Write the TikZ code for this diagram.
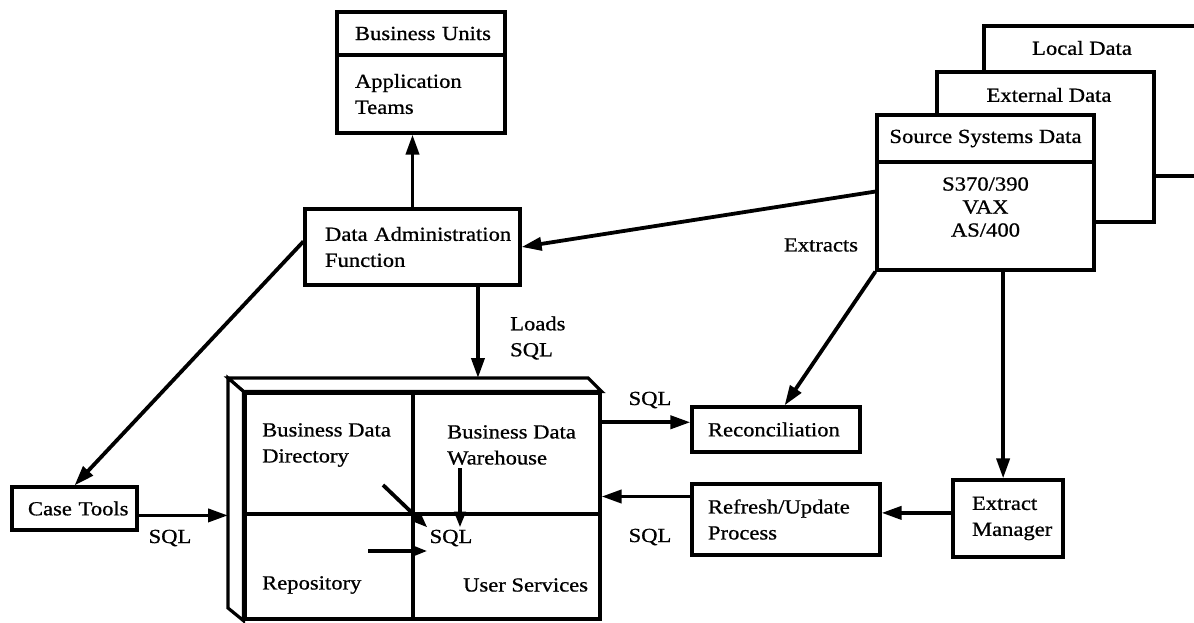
\documentclass[tikz,border=0pt]{standalone}
\usepackage{fontspec}
\setmainfont{Liberation Serif}[FakeStretch=1.13,FakeBold=0.8]
\usetikzlibrary{arrows.meta,calc}

\begin{document}
\begin{tikzpicture}[x=1pt,y=-1pt,
  font=\fontsize{20}{26}\selectfont,
  box/.style={draw, line width=3.2pt, fill=white, inner sep=0pt, align=left},
  frame/.style={line width=3.2pt, line join=miter},
  lbl/.style={inner sep=2pt, align=left},
  arr/.style={line width=3.8pt, -{Triangle[length=20pt,width=13pt]}},
  smallarr/.style={line width=3.8pt, -{Triangle[length=16pt,width=11pt]}}]

\useasboundingbox (0,0) rectangle (1194,623);
\clip (0,0) rectangle (1194,623);

% ---- business units / application teams ----
\node[box, minimum width=168pt, minimum height=43pt, text width=132pt] (bu) at (421,33.5) {\mbox{Business Units}};
\node[box, minimum width=168pt, minimum height=78pt, text width=132pt] (at) at (421,94) {\mbox{Application}\\\mbox{Teams}};

% ---- data administration ----
\node[box, minimum width=215pt, minimum height=76pt, text width=175pt] (da) at (412.5,247) {\mbox{Data Administration}\\\mbox{Function}};

% ---- case tools ----
\node[box, minimum width=125pt, minimum height=43pt, text width=93pt] (ct) at (74.5,508.5) {\mbox{Case Tools}};

% ---- stacked source data sheets ----
\node[box, minimum width=256pt, minimum height=150pt] (loc) at (1112,101) {};
\node[lbl] (loc-t) at (1082,48) {Local Data};
\node[box, minimum width=217pt, minimum height=150pt] (ext) at (1045.5,147) {};
\node[lbl] (ext-t) at (1049,95) {External Data};
\node[box, minimum width=217pt, minimum height=47pt, align=center] (ssd) at (985.5,138.5) {Source Systems Data};
\node[box, minimum width=217pt, minimum height=108pt] (ssb) at (985.5,216) {};
\node[lbl, align=center, font=\fontsize{20}{23}\selectfont] (ssb-t) at (985.5,207) {S370/390\\VAX\\AS/400};

% ---- reconciliation, refresh, extract manager ----
\node[box, minimum width=168pt, minimum height=45pt, text width=136pt] (rec) at (776,429.5) {\mbox{Reconciliation}};
\node[box, minimum width=188pt, minimum height=71pt, text width=156pt] (ref) at (786,519.5) {\mbox{Refresh/Update}\\\mbox{Process}};
\node[box, minimum width=110pt, minimum height=77pt, text width=72pt] (em) at (1008,518.5) {\mbox{Extract}\\\mbox{Manager}};

% ---- warehouse block (front face with top and side faces) ----
\coordinate (b1) at (228,378);
\coordinate (b2) at (588,378);
\coordinate (b3) at (228,608);
\node[box, minimum width=355pt, minimum height=226pt] (wh) at (422.5,506) {};
\filldraw[frame, fill=white] (b1) -- (b2) -- (wh.north east) -- (wh.north west) -- cycle;
\filldraw[frame, fill=white] (b1) -- (wh.north west) -- (wh.south west) -- (b3) -- cycle;
\draw[frame] (413,393) -- (413,619);
\draw[frame] (245,514) -- (600,514);

\node[lbl, anchor=west] (bdd) at (260,445) {Business Data\\Directory};
\node[lbl, anchor=west] (bdw) at (445,445) {Business Data\\Warehouse};
\node[lbl, anchor=west] (rep) at (260,585) {Repository};
\node[lbl, anchor=west] (us) at (461,585) {User Services};
\node[lbl] (sqlc) at (451,538) {SQL};

\coordinate (d0) at (383,485);
\coordinate (v0) at (460,468);
\coordinate (h0) at (368,551);
\draw[smallarr] (d0) -- (sqlc.north west);
\draw[smallarr] (v0) -- (v0 |- sqlc.north);
\draw[smallarr] (h0) -- (h0 -| sqlc.west);

% ---- connectors ----
\draw[arr] (da.north) -- (da.north |- at.south);

\coordinate (da-w) at ($(da.north west)!0.43!(da.south west)$);
\draw[arr] (da-w) -- (ct.north);

\coordinate (da-out) at ($(da.south west)!0.8!(da.south east)$);
\draw[arr] (da-out) -- (da-out |- b1);

\coordinate (ct-e) at ($(ct.north east)!0.65!(ct.south east)$);
\draw[arr] (ct-e) -- (ct-e -| b1);

\coordinate (ss-w) at ($(ssb.north west)!0.28!(ssb.south west)$);
\draw[arr] (ss-w) -- (da.east);

\coordinate (rec-in) at ($(rec.north west)!0.55!(rec.north east)$);
\draw[arr] (ssb.south west) -- (rec-in);

\coordinate (ss-s) at ($(ssb.south west)!0.58!(ssb.south east)$);
\draw[arr] (ss-s) -- (ss-s |- em.north);

\coordinate (em-w) at ($(em.north west)!0.43!(em.south west)$);
\draw[arr] (em-w) -- (em-w -| ref.east);

\coordinate (ref-w) at ($(ref.north west)!0.19!(ref.south west)$);
\draw[arr] (ref-w) -- (ref-w -| wh.east);

\coordinate (rec-w) at ($(rec.north west)!0.35!(rec.south west)$);
\draw[arr] (rec-w -| wh.east) -- (rec-w);

% ---- connector labels ----
\node[lbl, anchor=west] (loads) at (508,338) {Loads\\SQL};
\node[lbl] (sql-rec) at (650,400) {SQL};
\node[lbl] (sql-ref) at (650,537) {SQL};
\node[lbl] (sql-ct) at (170,538) {SQL};
\node[lbl] (extracts) at (821,245) {Extracts};

\end{tikzpicture}
\end{document}
